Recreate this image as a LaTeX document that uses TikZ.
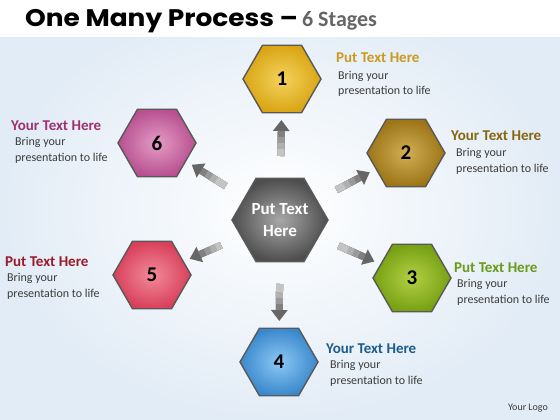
\documentclass[tikz,border=0pt]{standalone}
\usepackage{fontspec}
\setmainfont{Carlito}
\newfontfamily\titlefont[FakeStretch=1.1]{Poppins}
\usetikzlibrary{shapes.geometric,arrows.meta}

% hexagon fills (inner / outer)
\definecolor{goldin}{HTML}{F4D35E}  \definecolor{goldout}{HTML}{D9A514}
\definecolor{olivein}{HTML}{D2AE55} \definecolor{oliveout}{HTML}{9C7516}
\definecolor{greenin}{HTML}{B4D045} \definecolor{greenout}{HTML}{76A012}
\definecolor{bluein}{HTML}{8CC8F4}  \definecolor{blueout}{HTML}{3A88CC}
\definecolor{redin}{HTML}{F28A98}   \definecolor{redout}{HTML}{D8405A}
\definecolor{pinkin}{HTML}{E49CC6}  \definecolor{pinkout}{HTML}{B85090}
\definecolor{grayin}{HTML}{A8A8A8}  \definecolor{grayout}{HTML}{4E4E4E}
% label colours
\definecolor{headgold}{HTML}{CC9A1E}
\definecolor{headolive}{HTML}{86660E}
\definecolor{headgreen}{HTML}{6A9A18}
\definecolor{headblue}{HTML}{1E5C8C}
\definecolor{headred}{HTML}{9A1A2A}
\definecolor{headpink}{HTML}{A03070}
\definecolor{bodygray}{HTML}{3C3C3C}
\definecolor{bgblue}{HTML}{E2ECF6}

\begin{document}
\begin{tikzpicture}[x=1pt,y=-1pt,
  hexbox/.style 2 args={regular polygon, regular polygon sides=6,
    minimum size=78pt, inner sep=0pt, draw=black!65, line width=1.4pt,
    inner color=#1, outer color=#2, text=black,
    font=\bfseries\fontsize{21}{21}\selectfont},
  heading/.style={anchor=base west, inner sep=0pt,
    font=\bfseries\fontsize{15}{15}\selectfont},
  bodytext/.style={anchor=base west, inner sep=0pt, align=left,
    text=bodygray, font=\fontsize{12}{15.5}\selectfont},
  flow/.style={line width=7pt, black!60,
    -{Triangle[width=16pt,length=11pt]},
    shorten <=64pt, shorten >=41pt},
  flowtail/.style 2 args={line width=7pt, black!#1,
    shorten <=64pt, shorten >=#2}]

% background
\shade[inner color=white, outer color=bgblue] (0,0) rectangle (560,420);
\fill[white] (0,0) rectangle (560,37);
\useasboundingbox (0,0) rectangle (560,420);

% title
\node[anchor=base west, inner sep=0pt] (title) at (25,27)
  {{\titlefont\bfseries\fontsize{24}{24}\selectfont One Many Process \textendash}\hspace{4pt}%
   \textcolor{black!60}{\bfseries\fontsize{22}{22}\selectfont 6 Stages}};

% hexagons
\node[hexbox={grayin}{grayout}, minimum size=96pt, text=white,
  align=center, font=\bfseries\fontsize{17}{22}\selectfont] (c) at (280,220)
  {Put Text\\Here};
\node[hexbox={goldin}{goldout}]   (h1) at (282,79)  {1};
\node[hexbox={olivein}{oliveout}] (h2) at (406,153) {2};
\node[hexbox={greenin}{greenout}] (h3) at (412,278) {3};
\node[hexbox={bluein}{blueout}]   (h4) at (279,362) {4};
\node[hexbox={redin}{redout}]     (h5) at (152,275) {5};
\node[hexbox={pinkin}{pinkout}]   (h6) at (157,143) {6};

% arrows (shaft lightens towards the tail)
\foreach \n in {h1,h2,h3,h4,h5,h6}{
  \draw[flow] (c.center) -- (\n.center);
  \draw[flowtail={50}{52pt}] (c.center) -- (\n.center);
  \draw[flowtail={40}{58pt}] (c.center) -- (\n.center);
  \draw[flowtail={31}{64pt}] (c.center) -- (\n.center);
  \draw[flowtail={23}{70pt}] (c.center) -- (\n.center);
}

% labels (body nodes sit on their last baseline)
\node[heading, text=headgold]  (t1) at (336,63)  {Put Text Here};
\node[bodytext]                (b1) at (338,95)  {Bring your\\presentation to life};
\node[heading, text=headolive] (t2) at (451,140) {Your Text Here};
\node[bodytext]                (b2) at (456,172) {Bring your\\presentation to life};
\node[heading, text=headgreen] (t3) at (454,272) {Put Text Here};
\node[bodytext]                (b3) at (457,303) {Bring your\\presentation to life};
\node[heading, text=headblue]  (t4) at (326,353) {Your Text Here};
\node[bodytext]                (b4) at (330,384) {Bring your\\presentation to life};
\node[heading, text=headred]   (t5) at (5,266)   {Put Text Here};
\node[bodytext]                (b5) at (7,297)   {Bring your\\presentation to life};
\node[heading, text=headpink]  (t6) at (11,130)  {Your Text Here};
\node[bodytext]                (b6) at (15,161)  {Bring your\\presentation to life};

\node[inner sep=0pt, text=bodygray, font=\fontsize{10}{10}\selectfont]
  (logo) at (528,408) {Your Logo};
\end{tikzpicture}
\end{document}
